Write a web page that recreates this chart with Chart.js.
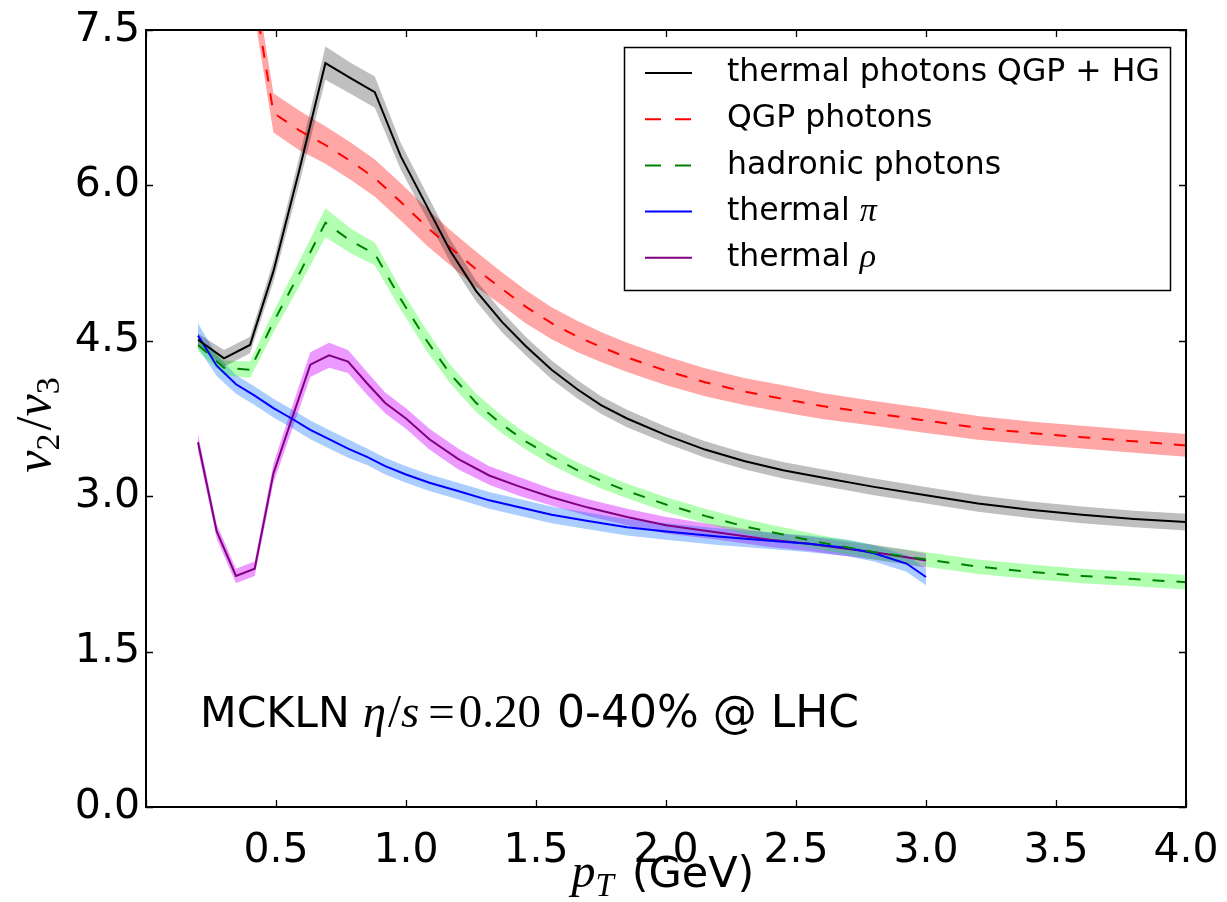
<!DOCTYPE html>
<html lang="en">
<head>
<meta charset="UTF-8">
<title>v2/v3 of thermal photons</title>
<script src="https://cdn.jsdelivr.net/npm/chart.js/dist/chart.umd.min.js"></script>
<style>
  html, body { margin: 0; padding: 0; background: #fff; }
  #wrap { width: 1227px; height: 902px; }
</style>
</head>
<body>
<div id="wrap"><canvas id="ratioChart" width="1227" height="902"></canvas></div>
<script>
// photon curves share one pT grid (GeV)
const pTPhoton = [0.2, 0.3, 0.4, 0.49, 0.59, 0.69, 0.79, 0.88, 0.98, 1.08, 1.17, 1.27, 1.37, 1.46, 1.56,
                  1.66, 1.75, 1.85, 2.0, 2.15, 2.3, 2.45, 2.6, 2.8, 3.0, 3.2, 3.4, 3.6, 3.8, 4.0];
const totalRatio = [4.51, 4.33, 4.46, 5.17, 6.15, 7.18, 7.03, 6.90, 6.28, 5.80, 5.37, 4.98, 4.68, 4.45, 4.22,
                    4.03, 3.88, 3.75, 3.59, 3.45, 3.34, 3.25, 3.18, 3.09, 3.01, 2.93, 2.87, 2.82, 2.78, 2.75];
const totalErr = [0.06, 0.08, 0.08, 0.10, 0.13, 0.16, 0.15, 0.15, 0.13, 0.12, 0.11, 0.10, 0.10, 0.09, 0.09,
                  0.09, 0.085, 0.085, 0.08, 0.08, 0.08, 0.08, 0.08, 0.08, 0.08, 0.08, 0.08, 0.08, 0.08, 0.08];
const qgpRatio = [11.0, 9.5, 8.1, 6.70, 6.53, 6.39, 6.23, 6.07, 5.84, 5.60, 5.40, 5.19, 5.00, 4.83, 4.67,
                  4.54, 4.44, 4.34, 4.21, 4.10, 4.01, 3.94, 3.87, 3.80, 3.73, 3.66, 3.61, 3.57, 3.53, 3.49];
const qgpErr = [0.19, 0.19, 0.19, 0.19, 0.19, 0.18, 0.18, 0.18, 0.18, 0.18, 0.17, 0.17, 0.16, 0.16, 0.155,
                0.15, 0.145, 0.14, 0.14, 0.135, 0.13, 0.13, 0.125, 0.12, 0.12, 0.115, 0.11, 0.11, 0.11, 0.11];
const hadRatio = [4.46, 4.24, 4.22, 4.68, 5.15, 5.64, 5.46, 5.34, 4.90, 4.50, 4.18, 3.90, 3.69, 3.53, 3.38,
                  3.25, 3.15, 3.05, 2.92, 2.81, 2.71, 2.63, 2.55, 2.46, 2.39, 2.32, 2.27, 2.23, 2.20, 2.17];
const hadErr = [0.06, 0.07, 0.08, 0.10, 0.12, 0.14, 0.12, 0.11, 0.10, 0.10, 0.09, 0.09, 0.085, 0.08, 0.08,
                0.075, 0.075, 0.07, 0.07, 0.07, 0.07, 0.07, 0.07, 0.07, 0.07, 0.07, 0.07, 0.07, 0.07, 0.07];

// thermal pi / rho grid stops at 3 GeV
const pTMeson = [0.2, 0.272, 0.346, 0.418, 0.49, 0.56, 0.632, 0.704, 0.777, 0.85, 0.92, 1.0, 1.09, 1.2,
                 1.32, 1.44, 1.56, 1.7, 1.85, 2.0, 2.2, 2.4, 2.55, 2.7, 2.8, 2.925, 3.0];
const piRatio = [4.55, 4.26, 4.08, 3.97, 3.85, 3.75, 3.64, 3.55, 3.46, 3.38, 3.29, 3.21, 3.13, 3.05,
                 2.96, 2.89, 2.82, 2.76, 2.70, 2.66, 2.61, 2.57, 2.54, 2.50, 2.45, 2.35, 2.22];
const piErr = [0.12, 0.10, 0.09, 0.09, 0.09, 0.09, 0.09, 0.09, 0.09, 0.08, 0.08, 0.08, 0.08, 0.08,
               0.08, 0.08, 0.08, 0.08, 0.08, 0.08, 0.08, 0.08, 0.08, 0.08, 0.08, 0.08, 0.08];
const rhoRatio = [3.52, 2.66, 2.23, 2.30, 3.22, 3.74, 4.27, 4.36, 4.30, 4.09, 3.90, 3.75, 3.55, 3.36,
                  3.20, 3.09, 2.99, 2.89, 2.80, 2.72, 2.65, 2.58, 2.54, 2.49, 2.46, 2.41, 2.38];
const rhoErr = [0.08, 0.07, 0.07, 0.07, 0.09, 0.11, 0.12, 0.12, 0.11, 0.11, 0.10, 0.10, 0.10, 0.10,
                0.09, 0.09, 0.08, 0.08, 0.08, 0.08, 0.07, 0.07, 0.07, 0.07, 0.07, 0.07, 0.07];

const xTicks = [0, 0.5, 1.0, 1.5, 2.0, 2.5, 3.0, 3.5, 4.0];
const yTicks = [0, 1.5, 3.0, 4.5, 6.0, 7.5];

const series = [
  { label: 'thermal photons QGP + HG', x: pTPhoton, y: totalRatio, err: totalErr, line: '#000000', band: 'rgba(0,0,0,0.25)', dash: [] },
  { label: 'QGP photons', x: pTPhoton, y: qgpRatio, err: qgpErr, line: '#ff0000', band: 'rgba(255,0,0,0.35)', dash: [12, 12] },
  { label: 'hadronic photons', x: pTPhoton, y: hadRatio, err: hadErr, line: '#008000', band: 'rgba(0,255,0,0.3)', dash: [12, 12] },
  { label: 'thermal ', math: 'π', x: pTMeson, y: piRatio, err: piErr, line: '#0000ff', band: 'rgba(0,102,255,0.33)', dash: [] },
  { label: 'thermal ', math: 'ρ', x: pTMeson, y: rhoRatio, err: rhoErr, line: '#800080', band: 'rgba(210,0,255,0.4)', dash: [] }
];

const SANS = '"DejaVu Sans", sans-serif';
const MATH = '"Liberation Serif", "DejaVu Serif", serif';

// each series -> lower edge, upper edge filled down to it, then the centre line
const datasets = [];
series.forEach(s => {
  const lowIdx = datasets.length;
  datasets.push({
    data: s.x.map((x, i) => ({ x: x, y: s.y[i] - s.err[i] })),
    borderWidth: 0, borderColor: 'transparent', pointRadius: 0, fill: false
  });
  datasets.push({
    data: s.x.map((x, i) => ({ x: x, y: s.y[i] + s.err[i] })),
    borderWidth: 0, borderColor: 'transparent', pointRadius: 0,
    backgroundColor: s.band, fill: { target: lowIdx }
  });
  datasets.push({
    label: s.label,
    data: s.x.map((x, i) => ({ x: x, y: s.y[i] })),
    borderColor: s.line, borderWidth: 2, borderDash: s.dash,
    pointRadius: 0, fill: false, tension: 0
  });
});

// draw a row of text pieces in different fonts; {gap} just moves the pen
function drawRuns(ctx, x, y, runs) {
  let cx = x;
  runs.forEach(r => {
    if (r.gap) { cx += r.gap; return; }
    ctx.font = r.font;
    ctx.fillText(r.text, cx, y + (r.dy || 0));
    cx += ctx.measureText(r.text).width;
  });
  return cx - x;
}
function runsWidth(ctx, runs) {
  let w = 0;
  runs.forEach(r => {
    if (r.gap) { w += r.gap; return; }
    ctx.font = r.font; w += ctx.measureText(r.text).width;
  });
  return w;
}

const framePlugin = {
  id: 'frame',
  afterDraw(chart) {
    const ctx = chart.ctx;
    const a = chart.chartArea;
    const xs = chart.scales.x, ys = chart.scales.y;
    ctx.save();
    ctx.strokeStyle = '#000';
    ctx.fillStyle = '#000';

    // inward ticks on all four sides
    ctx.lineWidth = 1.3;
    ctx.beginPath();
    xTicks.forEach(v => {
      const px = Math.round(xs.getPixelForValue(v)) + 0.5;
      ctx.moveTo(px, a.bottom); ctx.lineTo(px, a.bottom - 7);
      ctx.moveTo(px, a.top); ctx.lineTo(px, a.top + 7);
    });
    yTicks.forEach(v => {
      const py = Math.round(ys.getPixelForValue(v)) + 0.5;
      ctx.moveTo(a.left, py); ctx.lineTo(a.left + 7, py);
      ctx.moveTo(a.right, py); ctx.lineTo(a.right - 7, py);
    });
    ctx.stroke();

    // axes box
    ctx.lineWidth = 2;
    ctx.strokeRect(a.left, a.top, a.right - a.left, a.bottom - a.top);

    // legend
    const lx = 624, ly = 47, lw = 546, lh = 243;
    ctx.fillStyle = '#fff';
    ctx.fillRect(lx, ly, lw, lh);
    ctx.lineWidth = 1.5;
    ctx.strokeStyle = '#000';
    ctx.strokeRect(lx + 0.5, ly + 0.5, lw, lh);
    ctx.textBaseline = 'middle';
    series.forEach((s, i) => {
      const ry = 73 + i * 46.2;
      ctx.strokeStyle = s.line;
      ctx.lineWidth = 2;
      ctx.setLineDash(s.dash.length ? [16, 14] : []);
      ctx.beginPath();
      ctx.moveTo(645, ry); ctx.lineTo(692, ry);
      ctx.stroke();
      ctx.setLineDash([]);
      ctx.fillStyle = '#000';
      const runs = [{ text: s.label, font: '31.5px ' + SANS }];
      if (s.math) runs.push({ text: s.math, font: 'italic 34px ' + MATH });
      drawRuns(ctx, 727, ry, runs);
    });

    // annotation
    ctx.textBaseline = 'alphabetic';
    ctx.fillStyle = '#000';
    drawRuns(ctx, 200, 727, [
      { text: 'MCKLN', font: '42.5px ' + SANS },
      { gap: 13 },
      { text: 'η', font: 'italic 47px ' + MATH },
      { gap: 2 },
      { text: '/', font: '47px ' + MATH },
      { text: 's', font: 'italic 47px ' + MATH },
      { gap: 9 },
      { text: '=', font: '47px ' + MATH },
      { gap: 4 },
      { text: '0.20', font: '47px ' + MATH },
      { gap: 2 },
      { text: ' 0-40% @ LHC', font: '44px ' + SANS }
    ]);

    // x title
    const xRuns = [
      { text: 'p', font: 'italic 48px ' + MATH },
      { text: 'T', font: 'italic 33px ' + MATH, dy: 9 },
      { gap: 4 },
      { text: ' (GeV)', font: '43px ' + SANS }
    ];
    const xw = runsWidth(ctx, xRuns);
    drawRuns(ctx, (a.left + a.right) / 2 - 3 - xw / 2, 887, xRuns);

    // y title, rotated
    const yRuns = [
      { text: 'v', font: 'italic 50px ' + MATH },
      { text: '2', font: '34px ' + MATH, dy: 9 },
      { gap: 3 },
      { text: '/', font: '50px ' + MATH },
      { text: 'v', font: 'italic 50px ' + MATH },
      { text: '3', font: '34px ' + MATH, dy: 9 }
    ];
    const yw = runsWidth(ctx, yRuns);
    ctx.translate(50, 425);
    ctx.rotate(-Math.PI / 2);
    drawRuns(ctx, -yw / 2, 0, yRuns);
    ctx.restore();
  }
};

new Chart(document.getElementById('ratioChart'), {
  type: 'line',
  data: { datasets: datasets },
  plugins: [framePlugin],
  options: {
    responsive: false,
    animation: false,
    devicePixelRatio: 1,
    layout: { padding: { left: 0, right: 41, top: 30, bottom: 0 } },
    plugins: {
      legend: { display: false },
      tooltip: { enabled: false },
      filler: { drawTime: 'beforeDatasetsDraw' }
    },
    scales: {
      x: {
        type: 'linear', min: 0, max: 4,
        afterFit: s => { s.height = 95; s.paddingLeft = 0; s.paddingRight = 0; },
        afterBuildTicks: s => { s.ticks = xTicks.map(v => ({ value: v })); },
        grid: { display: false, drawTicks: false },
        border: { display: false },
        ticks: {
          padding: 20, color: '#000', maxRotation: 0, autoSkip: false,
          font: { family: SANS, size: 41 },
          callback: v => v === 0 ? '' : v.toFixed(1)
        }
      },
      y: {
        type: 'linear', min: 0, max: 7.5,
        afterFit: s => { s.width = 146; s.paddingTop = 0; s.paddingBottom = 0; },
        afterBuildTicks: s => { s.ticks = yTicks.map(v => ({ value: v })); },
        grid: { display: false, drawTicks: false },
        border: { display: false },
        ticks: {
          padding: 6, color: '#000', autoSkip: false,
          font: { family: SANS, size: 41 },
          callback: v => v.toFixed(1)
        }
      }
    }
  }
});
</script>
</body>
</html>
